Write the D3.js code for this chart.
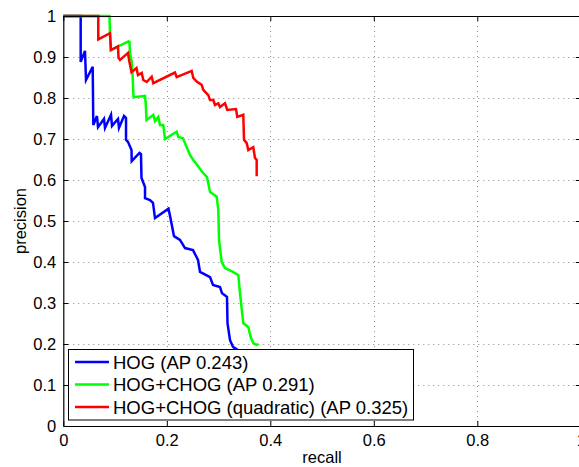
<!DOCTYPE html>
<html><head><meta charset="utf-8">
<script src="https://cdn.jsdelivr.net/npm/d3@7"></script>
<style>body{margin:0;background:#fff}svg{display:block}</style>
</head><body>
<svg id="chart" width="579" height="467"></svg>
<script>
const xTicks = [0, 0.2, 0.4, 0.6, 0.8, 1];
const yTicks = [0, 0.1, 0.2, 0.3, 0.4, 0.5, 0.6, 0.7, 0.8, 0.9, 1];
const seriesNames = ["HOG (AP 0.243)", "HOG+CHOG (AP 0.291)", "HOG+CHOG (quadratic) (AP 0.325)"];
const seriesColors = ["#0000ff", "#00ff00", "#ff0000"];

const hogRecall = [0,0.0336,0.0336,0.0419,0.0439,0.0568,0.058,0.0651,0.0671,0.0786,0.0806,0.0922,0.0941,0.1057,0.1076,0.1173,0.1212,0.1212,0.125,0.1318,0.1322,0.1472,0.1501,0.1511,0.1579,0.1579,0.1675,0.1733,0.1772,0.2033,0.2071,0.2139,0.2255,0.2352,0.2506,0.2603,0.2642,0.2835,0.2893,0.3028,0.3067,0.3163,0.3173,0.3221,0.3279,0.3376,0.345,0.35];
const hogPrecision = [1,1,0.888,0.915,0.844,0.876,0.734,0.756,0.729,0.749,0.727,0.759,0.732,0.749,0.727,0.756,0.751,0.698,0.693,0.673,0.646,0.666,0.663,0.605,0.583,0.556,0.551,0.544,0.507,0.530,0.507,0.463,0.454,0.434,0.429,0.405,0.376,0.363,0.344,0.339,0.324,0.315,0.251,0.210,0.193,0.185,0.17,0.15];

const chogRecall = [0,0.0893,0.0902,0.0916,0.126,0.1279,0.1289,0.1318,0.1337,0.1357,0.1579,0.1592,0.1608,0.1739,0.1772,0.1836,0.1868,0.1932,0.1965,0.2191,0.2222,0.2313,0.2385,0.2448,0.2512,0.2584,0.268,0.2777,0.2835,0.2964,0.2995,0.3009,0.3061,0.3125,0.3279,0.3382,0.3414,0.3478,0.3575,0.3621,0.3671,0.3733,0.3772];
const chogPrecision = [1,1,0.959,0.917,0.938,0.937,0.907,0.893,0.861,0.802,0.805,0.788,0.746,0.759,0.744,0.754,0.734,0.734,0.700,0.718,0.705,0.702,0.680,0.661,0.649,0.637,0.620,0.607,0.571,0.559,0.527,0.454,0.400,0.385,0.376,0.368,0.324,0.251,0.241,0.217,0.202,0.198,0.200];

const quadRecall = [0,0.0676,0.0676,0.0902,0.0922,0.1057,0.1067,0.1096,0.125,0.127,0.1318,0.1414,0.1443,0.1515,0.1546,0.1612,0.1708,0.1739,0.2158,0.2191,0.2481,0.2512,0.2578,0.2674,0.2705,0.2802,0.2835,0.2899,0.2931,0.2995,0.3028,0.3125,0.3169,0.3337,0.3362,0.3478,0.3492,0.3544,0.3575,0.3671,0.3704,0.3737,0.3737];
const quadPrecision = [1,1,0.943,0.958,0.917,0.926,0.898,0.893,0.910,0.893,0.863,0.873,0.856,0.861,0.844,0.839,0.852,0.836,0.862,0.851,0.866,0.849,0.840,0.832,0.820,0.807,0.795,0.795,0.783,0.787,0.778,0.787,0.771,0.773,0.754,0.759,0.698,0.690,0.673,0.680,0.654,0.649,0.609];

const series = [
  {name: seriesNames[0], color: seriesColors[0], pts: hogRecall.map((r,i)=>[r, hogPrecision[i]])},
  {name: seriesNames[1], color: seriesColors[1], pts: chogRecall.map((r,i)=>[r, chogPrecision[i]])},
  {name: seriesNames[2], color: seriesColors[2], pts: quadRecall.map((r,i)=>[r, quadPrecision[i]])}
];

const L = 63.3, T = 16, W = 517.5, H = 410;
const svg = d3.select("#chart");
const x = d3.scaleLinear().domain([0,1]).range([L, L+W]);
const y = d3.scaleLinear().domain([0,1]).range([T+H, T]);
const font = "'Liberation Sans', Arial, Helvetica, sans-serif";

// grid
const grid = svg.append("g").attr("stroke", "#888").attr("stroke-width", 1).attr("stroke-dasharray", "1,4");
grid.selectAll("line.gx").data(xTicks.slice(1, -1)).enter().append("line")
  .attr("x1", d=>Math.round(x(d))+0.5).attr("x2", d=>Math.round(x(d))+0.5).attr("y1", T).attr("y2", T+H);
grid.selectAll("line.gy").data(yTicks.slice(1, -1)).enter().append("line")
  .attr("y1", d=>Math.round(y(d))+0.5).attr("y2", d=>Math.round(y(d))+0.5).attr("x1", L).attr("x2", L+W);

// curves
const line = d3.line().x(d=>x(d[0])).y(d=>y(d[1]));
svg.append("g").selectAll("path").data(series).enter().append("path")
  .attr("d", d=>line(d.pts)).attr("fill", "none").attr("stroke", d=>d.color)
  .attr("stroke-width", 2.5).attr("stroke-linejoin", "miter");

// axes
const axB = svg.append("g").attr("transform", `translate(0,${T+H})`)
  .call(d3.axisBottom(x).tickValues(xTicks).tickSizeInner(-5).tickSizeOuter(0).tickPadding(8).tickFormat(d3.format("~g")));
const axT = svg.append("g").attr("transform", `translate(0,${T})`)
  .call(d3.axisTop(x).tickValues(xTicks).tickSizeInner(-5).tickSizeOuter(0).tickFormat(""));
const axLft = svg.append("g").attr("transform", `translate(${L},0)`)
  .call(d3.axisLeft(y).tickValues(yTicks).tickSizeInner(-5).tickSizeOuter(0).tickPadding(7).tickFormat(d3.format("~g")));
const axR = svg.append("g").attr("transform", `translate(${L+W},0)`)
  .call(d3.axisRight(y).tickValues(yTicks).tickSizeInner(-5).tickSizeOuter(0).tickFormat(""));
[axB, axT, axLft, axR].forEach(a => {
  a.select(".domain").attr("stroke", "#000").attr("stroke-width", 1.2);
  a.selectAll(".tick line").attr("stroke", "#000");
  a.selectAll("text").attr("font-family", font).attr("font-size", 16.5).attr("fill", "#000");
});
axB.selectAll("text").attr("dy", "0.71em");

svg.append("text").attr("x", x(0.5)).attr("y", 463).attr("text-anchor", "middle")
  .attr("font-family", font).attr("font-size", 16.5).text("recall");
svg.append("text").attr("transform", `translate(26,${y(0.5)}) rotate(-90)`).attr("text-anchor", "middle")
  .attr("font-family", font).attr("font-size", 16.5).text("precision");

// legend
const lg = svg.append("g");
lg.append("rect").attr("x", 68.5).attr("y", 349.5).attr("width", 345).attr("height", 70.5)
  .attr("fill", "#fff").attr("stroke", "#000").attr("stroke-width", 1);
const rows = lg.selectAll("g.row").data(series).enter().append("g")
  .attr("transform", (d,i)=>`translate(0,${362 + i*22.5})`);
rows.append("line").attr("x1", 75).attr("x2", 109).attr("y1", 0).attr("y2", 0)
  .attr("stroke", d=>d.color).attr("stroke-width", 2.5);
rows.append("text").attr("x", 113).attr("y", 0).attr("dy", "0.36em")
  .attr("font-family", font).attr("font-size", 18.5).text(d=>d.name);
</script>
</body></html>
